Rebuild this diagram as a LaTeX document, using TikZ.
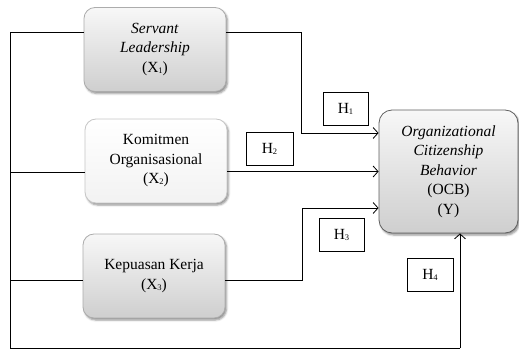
\documentclass[tikz,border=0pt]{standalone}
\usepackage{fontspec}
\setmainfont{Liberation Serif}
\usetikzlibrary{arrows.meta,shadows.blur,calc}
\newcommand{\mysub}[1]{\raisebox{-1pt}{\fontsize{8.5}{8.5}\selectfont #1}}
\begin{document}
\begin{tikzpicture}[x=1pt,y=-1pt,
  font=\fontsize{15.5}{19.5}\selectfont,
  line width=0.8pt,
  varbox/.style={draw=gray!65, rounded corners=11pt, minimum width=142pt, minimum height=84pt,
    align=center, inner sep=2pt, top color=gray!6, bottom color=gray!38,
    blur shadow={shadow xshift=1.5pt, shadow yshift=-2pt, shadow blur radius=2pt, shadow opacity=45}},
  lightbox/.style={varbox, draw=gray!45, top color=white, bottom color=gray!10},
  ybox/.style={varbox, draw=gray!75!black, minimum width=139pt, minimum height=123pt, rounded corners=13pt},
  hbox/.style={draw, fill=white, line width=0.7pt, minimum height=33pt, inner sep=0pt},
  conn/.style={draw, line width=0.8pt},
  arr/.style={conn, -{Straight Barb[length=5pt,width=11pt,line width=0.8pt]}}
]
\useasboundingbox (0,0) rectangle (519,350);

\node[varbox] (X1) at (155,49.5) {\textit{Servant}\\\textit{Leadership}\\(X\mysub{1})};
\node[lightbox] (X2) at (156,161) {Komitmen\\Organisasional\\(X\mysub{2})};
\node[varbox] (X3) at (154,276) {Kepuasan Kerja\\(X\mysub{3})};
\node[ybox] (Y) at (448.5,171.5) {\textit{Organizational}\\\textit{Citizenship}\\\textit{Behavior}\\(OCB)\\(Y)};

\node[hbox, minimum width=45pt] (H1) at (345.5,109) {H\mysub{1}};
\node[hbox, minimum width=47pt] (H2) at (269.5,149) {H\mysub{2}};
\node[hbox, minimum width=45pt] (H3) at (341.5,235) {H\mysub{3}};
\node[hbox, minimum width=46pt] (H4) at (430,274.5) {H\mysub{4}};

% left bar and bottom path
\coordinate (LT) at (10,32);
\coordinate (LB) at (10,348);
\coordinate (B4) at (460,348);
\draw[conn] ([yshift=17.5pt]X1.west) -- (LT) -- (LB) -- (B4);
\draw[arr] (B4) -- (B4 |- Y.south);
\draw[conn] ([yshift=-11pt]X2.west) -- ([yshift=-11pt]X2.west -| LT);
\draw[conn] ([yshift=-4pt]X3.west) -- ([yshift=-4pt]X3.west -| LT);

% X1 -> Y
\coordinate (c1) at (301,32);
\coordinate (c1b) at (301,133);
\draw[conn] ([yshift=17.5pt]X1.east) -- (c1) -- (c1b);
\draw[arr] (c1b) -- (c1b -| Y.west);

% X2 -> Y
\draw[arr] ([yshift=-10.5pt]X2.east) -- ([yshift=-10.5pt]X2.east -| Y.west);

% X3 -> Y
\coordinate (c3) at (302,280);
\coordinate (c3b) at (302,208);
\draw[conn] ([yshift=-4pt]X3.east) -- (c3) -- (c3b);
\draw[arr] (c3b) -- (c3b -| Y.west);
\end{tikzpicture}
\end{document}
